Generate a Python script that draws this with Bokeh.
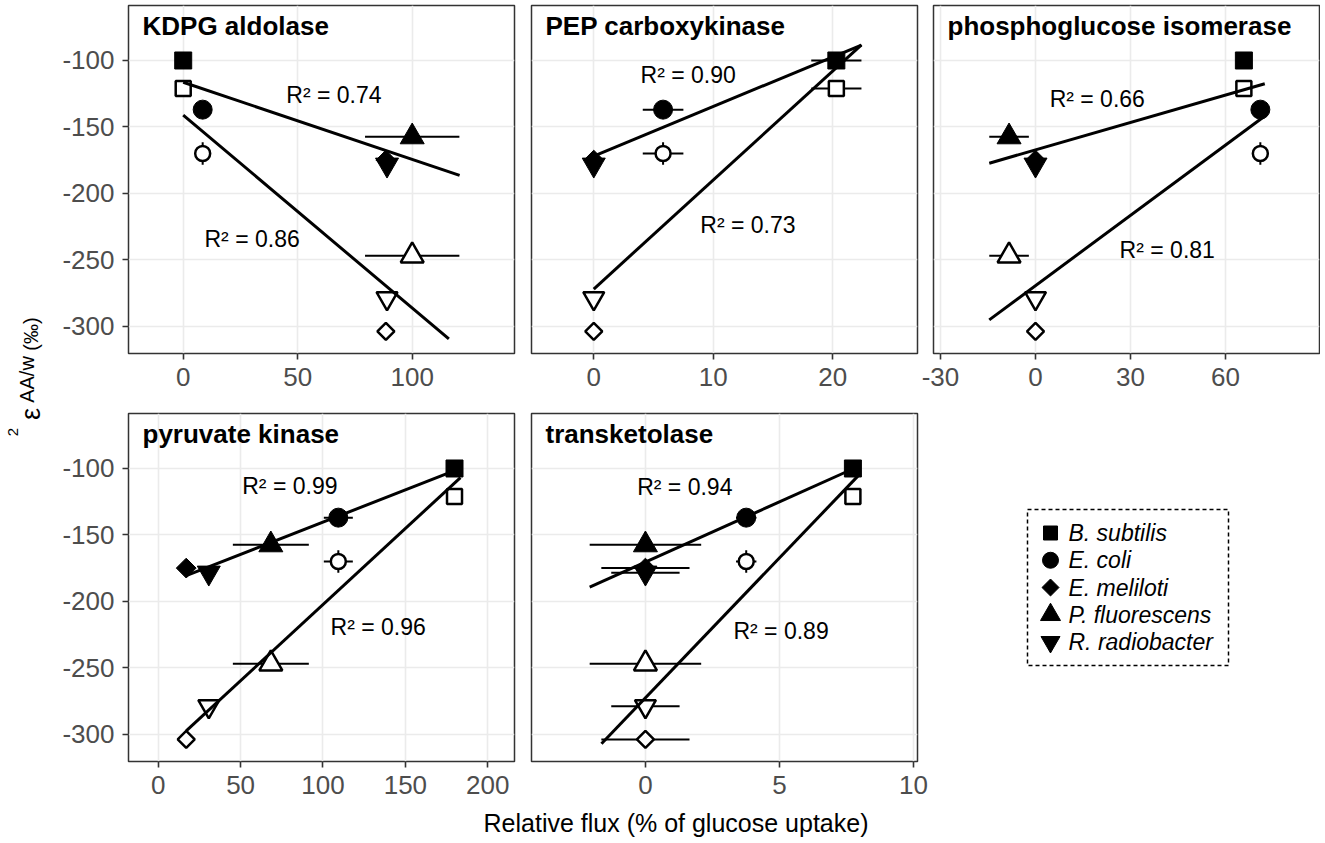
import math
import numpy as np
from bokeh.plotting import figure
from bokeh.models import Range1d, FixedTicker, Label, ColumnDataSource, PrintfTickFormatter
from bokeh.layouts import row, column
from bokeh.embed import file_html
from bokeh.resources import INLINE

# ---------------- data ----------------
species = ["B. subtilis", "E. coli", "E. meliloti", "P. fluorescens", "R. radiobacter"]
eps_filled = [-100, -137, -175, -157.5, -178.5]
eps_open = [-121, -170, -304, -247, -279]
eps_err_filled = [0, 3, 0, 0, 0]
eps_err_open = [0, 8.5, 0, 0, 0]

enzymes = ["KDPG aldolase", "PEP carboxykinase", "phosphoglucose isomerase",
           "pyruvate kinase", "transketolase"]
nan = float("nan")
flux_kdpg = [0, 8.5, 88.5, 100, 89]
flux_kdpg_err = [0, 0, 0, 20.6, 0]
flux_pepck = [20.3, 5.8, 0, nan, 0]
flux_pepck_err = [2.1, 1.7, 0, nan, 0]
flux_pgi = [65.8, 71.0, 0, -8.35, 0]
flux_pgi_err = [0, 1.4, 0, 6.25, 0]
flux_pk = [179.8, 109.3, 17, 68.35, 30.7]
flux_pk_err = [3.5, 8.8, 0, 23.05, 0]
flux_tkt = [7.74, 3.76, 0, 0, 0]
flux_tkt_err = [0.2, 0.38, 1.645, 2.08, 1.275]
fluxes = [flux_kdpg, flux_pepck, flux_pgi, flux_pk, flux_tkt]
flux_errs = [flux_kdpg_err, flux_pepck_err, flux_pgi_err, flux_pk_err, flux_tkt_err]

fit_range_filled = [(0, 120.7), (0, 22.4), (-14.6, 72.4), (17, 181), (-2.08, 7.96)]
fit_range_open = [(0, 116), (0, 22.4), (-14.6, 72.1), (17, 183.4), (-1.64, 7.96)]

r2_filled = ["0.74", "0.90", "0.66", "0.99", "0.94"]
r2_filled_pos = [(65.8, -126.3), (7.9, -111.3), (19.5, -128.9), (79.9, -113), (1.47, -114.3)]
r2_open = ["0.86", "0.73", "0.81", "0.96", "0.89"]
r2_open_pos = [(30.1, -234.3), (12.9, -223.5), (41.6, -243), (133.5, -219.2), (5.06, -222.5)]

x_ranges = [(-23.89, 144.67), (-5.21, 27.09), (-32.21, 89.68), (-18.02, 216.2), (-4.25, 10.15)]
x_ticks = [[0, 50, 100], [0, 10, 20], [-30, 0, 30, 60], [0, 50, 100, 150, 200], [0, 5, 10]]
y_range = (-320.6, -58.6)
y_ticks = [-300, -250, -200, -150, -100]

# ---------------- styles ----------------
FONT = "Liberation Sans"
marker_type = ["square", "circle", "square", "triangle", "inverted_triangle"]
marker_angle = [0, 0, math.pi / 4, 0, 0]
marker_size_filled = [17, 19, 14, 24, 23]
marker_size_open = [15, 15, 12, 23, 21]
legend_size = [14, 16, 12, 20, 19]
FW, FH = 386, 348


def make_panel(i, left, right, top, bottom, show_y):
    p = figure(frame_width=FW, frame_height=FH,
               x_range=Range1d(*x_ranges[i]), y_range=Range1d(*y_range),
               output_backend="svg", toolbar_location=None,
               min_border_left=left, min_border_right=right,
               min_border_top=top, min_border_bottom=bottom)
    p.outline_line_color = "#333333"
    p.outline_line_width = 1.5
    p.background_fill_color = "white"
    xt = FixedTicker(ticks=x_ticks[i])
    yt = FixedTicker(ticks=y_ticks)
    p.xaxis.ticker = xt
    p.xgrid.ticker = xt
    p.yaxis.ticker = yt
    p.ygrid.ticker = yt
    p.xaxis.formatter = PrintfTickFormatter(format="%d")
    p.yaxis.formatter = PrintfTickFormatter(format="%d")
    p.grid.grid_line_color = "#EBEBEB"
    p.grid.grid_line_width = 1.6
    p.axis.axis_line_color = None
    p.axis.major_tick_line_color = "#333333"
    p.axis.major_tick_line_width = 1.6
    p.axis.major_tick_out = 6
    p.axis.major_tick_in = 0
    p.axis.minor_tick_line_color = None
    p.axis.major_label_text_font = FONT
    p.axis.major_label_text_font_size = "26px"
    p.axis.major_label_text_color = "#4D4D4D"
    p.xaxis.major_label_standoff = 8
    p.yaxis.major_label_standoff = 8
    if not show_y:
        p.yaxis.visible = False

    xs = np.array(fluxes[i], dtype=float)
    xe = np.array(flux_errs[i], dtype=float)
    ok = ~np.isnan(xs)
    for eps, eerr in ((eps_open, eps_err_open), (eps_filled, eps_err_filled)):
        ys = np.array(eps, dtype=float)
        ye = np.array(eerr, dtype=float)
        mh = ok & (xe > 0)
        p.segment(x0=xs[mh] - xe[mh], x1=xs[mh] + xe[mh], y0=ys[mh], y1=ys[mh],
                  line_color="black", line_width=2)
        mv = ok & (ye > 0)
        p.segment(x0=xs[mv], x1=xs[mv], y0=ys[mv] - ye[mv], y1=ys[mv] + ye[mv],
                  line_color="black", line_width=2)
    for eps, filled, sizes in ((eps_filled, True, marker_size_filled),
                               (eps_open, False, marker_size_open)):
        ys = np.array(eps, dtype=float)
        src = ColumnDataSource(dict(
            x=xs[ok], y=ys[ok],
            m=[marker_type[k] for k in range(5) if ok[k]],
            a=[marker_angle[k] for k in range(5) if ok[k]],
            s=[sizes[k] for k in range(5) if ok[k]]))
        if filled:
            p.scatter("x", "y", marker="m", angle="a", size="s", source=src,
                      fill_color="black", line_color="black", line_width=1)
        else:
            p.scatter("x", "y", marker="m", angle="a", size="s", source=src,
                      fill_color="white", line_color="black", line_width=2.5)
    for eps, rng in ((eps_filled, fit_range_filled[i]), (eps_open, fit_range_open[i])):
        ys = np.array(eps, dtype=float)
        slope, intercept = np.polyfit(xs[ok], ys[ok], 1)
        xx = np.array(rng, dtype=float)
        p.line(xx, slope * xx + intercept, line_color="black", line_width=3)
    for txt, pos in ((r2_filled[i], r2_filled_pos[i]), (r2_open[i], r2_open_pos[i])):
        p.add_layout(Label(x=pos[0], y=pos[1], text="R² = " + txt, text_font=FONT,
                           text_font_size="23px", text_align="center",
                           text_baseline="middle", text_color="black"))
    x0, x1 = x_ranges[i]
    y0, y1 = y_range
    p.add_layout(Label(x=x0 + 14 * (x1 - x0) / FW, y=y1 - 20.5 * (y1 - y0) / FH,
                       text=enzymes[i], text_font=FONT, text_font_size="26px",
                       text_font_style="bold", text_align="left",
                       text_baseline="middle", text_color="black"))
    return p


YW = 48
p1 = make_panel(0, 128 - YW, 9, 5, 55, True)
p2 = make_panel(1, 8, 2, 5, 55, False)
p3 = make_panel(2, 14, 1, 5, 55, False)
p4 = make_panel(3, 128 - YW, 9, 5, 47, True)
p5 = make_panel(4, 8, 16, 5, 47, False)

# legend panel
pl = figure(frame_width=FW, frame_height=FH, x_range=Range1d(0, FW), y_range=Range1d(0, FH),
            x_axis_type=None, y_axis_type=None, output_backend="svg", toolbar_location=None,
            min_border_left=0, min_border_right=1, min_border_top=5, min_border_bottom=47)
pl.outline_line_color = None
pl.quad(left=94, right=295, bottom=96, top=252, fill_color=None,
        line_color="black", line_width=1.5, line_dash="4 3")
leg_y = [174 + (2 - k) * 27.25 for k in range(5)]
pl.scatter(x=[117] * 5, y=leg_y, marker=marker_type, angle=marker_angle, size=legend_size,
           fill_color="black", line_color="black")
for k in range(5):
    pl.add_layout(Label(x=135, y=leg_y[k], text=species[k], text_font=FONT,
                        text_font_size="23px", text_font_style="italic",
                        text_align="left", text_baseline="middle", text_color="black"))

# x-axis title
XH = 35
px = figure(width=1320 - YW, height=XH, x_axis_type=None, y_axis_type=None, min_border=0,
            output_backend="svg", toolbar_location=None, x_range=Range1d(0, 1), y_range=Range1d(0, 1))
px.outline_line_color = None
px.add_layout(Label(x=675.5 - YW, y=843 - 822.5, x_units="screen", y_units="screen",
                    text="Relative flux (% of glucose uptake)", text_font=FONT,
                    text_font_size="25px", text_align="center",
                    text_baseline="middle", text_color="black"))

# y-axis title (pieces centred on their measured extents)
YH = 408 + 400 + XH
py = figure(width=YW, height=YH, x_axis_type=None, y_axis_type=None, min_border=0,
            output_backend="svg", toolbar_location=None, x_range=Range1d(0, 1), y_range=Range1d(0, 1))
py.outline_line_color = None
for txt, xx, sy, fs in (("2", 12.5, 431.5, "15px"), ("ε", 30, 413.5, "27px"),
                        ("AA/w", 26, 379, "20px"), ("(‰)", 30, 333.5, "20px")):
    py.add_layout(Label(x=xx, y=YH - sy, x_units="screen", y_units="screen", text=txt,
                        angle=math.pi / 2, text_font=FONT, text_font_size=fs,
                        text_align="center", text_baseline="middle", text_color="black"))

layout = row(py, column(row(p1, p2, p3), row(p4, p5, pl), px))

open("out.html", "w").write(file_html(layout, INLINE))
